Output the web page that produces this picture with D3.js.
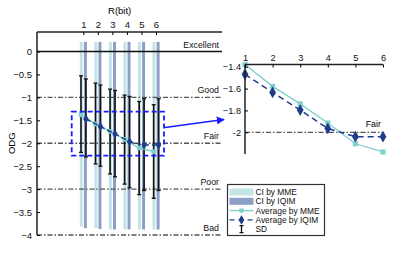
<!DOCTYPE html>
<html>
<head>
<meta charset="utf-8">
<script src="https://cdn.jsdelivr.net/npm/d3@7"></script>
<style>
  body { margin: 0; background: #fff; }
  svg { display: block; }
</style>
</head>
<body>
<div id="chart"></div>
<script>
// ODG vs bit rate, with zoomed inset of the averages
const rates = [1, 2, 3, 4, 5, 6];
const meanMME = [-1.38, -1.58, -1.74, -1.915, -2.105, -2.18];
const meanIQIM = [-1.47, -1.635, -1.797, -1.965, -2.04, -2.04];
const sdTopMME = [-0.53, -0.69, -0.82, -0.95, -1.09, -1.16];
const sdBotMME = [-2.2, -2.45, -2.67, -2.89, -3.12, -3.2];
const sdTopIQIM = [-0.6, -0.73, -0.85, -0.98, -1.03, -1.03];
const sdBotIQIM = [-2.3, -2.5, -2.73, -2.97, -3.03, -3.03];
const ciTopMME = [0.21, 0.21, 0.21, 0.21, 0.21, 0.21];
const ciBotMME = [-3.82, -3.85, -3.88, -3.88, -3.88, -3.88];
const ciTopIQIM = [0.21, 0.21, 0.21, 0.21, 0.21, 0.21];
const ciBotIQIM = [-3.85, -3.87, -3.88, -3.88, -3.88, -3.88];
const grades = [
  { v: 0, label: 'Excellent' },
  { v: -1, label: 'Good' },
  { v: -2, label: 'Fair' },
  { v: -3, label: 'Poor' },
  { v: -4, label: 'Bad' }
];
const yTicks = [0, -0.5, -1, -1.5, -2, -2.5, -3, -3.5, -4];
const insetTicks = [-1.4, -1.6, -1.8, -2];

const C_MME_CI = '#c2e5e4';
const C_IQIM_CI = '#8d9ec7';
const C_MME = '#80cfcd';
const C_IQIM = '#1f3d8a';
const FONT = '"Liberation Sans", Arial, sans-serif';

const svg = d3.select('#chart').append('svg')
  .attr('width', 415).attr('height', 255)
  .style('font-family', FONT);

// main panel geometry
const L = 37, R = 222, T = 32;
const x = d3.scaleLinear().domain([1, 6]).range([83.3, 156]);
const y = d3.scaleLinear().domain([0, -4]).range([51.5, 235]);

// CI bars
rates.forEach((r, i) => {
  svg.append('rect')
    .attr('x', x(r) - 3.5).attr('width', 3)
    .attr('y', y(ciTopMME[i])).attr('height', y(ciBotMME[i]) - y(ciTopMME[i]))
    .attr('fill', C_MME_CI);
  svg.append('rect')
    .attr('x', x(r) + 0.6).attr('width', 3)
    .attr('y', y(ciTopIQIM[i])).attr('height', y(ciBotIQIM[i]) - y(ciTopIQIM[i]))
    .attr('fill', C_IQIM_CI);
});

// grade lines
grades.forEach(g => {
  svg.append('line')
    .attr('x1', L).attr('x2', R)
    .attr('y1', y(g.v)).attr('y2', y(g.v))
    .attr('stroke', g.v === 0 ? '#111' : '#555')
    .attr('stroke-width', g.v === 0 ? 1.5 : 1.3)
    .attr('stroke-dasharray', g.v === 0 ? null : '5,2,1.5,2');
  svg.append('text')
    .attr('x', R - 3).attr('y', y(g.v) - 4)
    .attr('text-anchor', 'end')
    .style('font-size', '8.8px').style('fill', '#111')
    .text(g.label);
});

// SD error bars
function errBar(cx, top, bot) {
  svg.append('line').attr('x1', cx).attr('x2', cx)
    .attr('y1', y(top)).attr('y2', y(bot))
    .attr('stroke', '#111').attr('stroke-width', 1.6);
  [top, bot].forEach(v => {
    svg.append('line').attr('x1', cx - 2).attr('x2', cx + 2)
      .attr('y1', y(v)).attr('y2', y(v))
      .attr('stroke', '#111').attr('stroke-width', 1.3);
  });
}
rates.forEach((r, i) => {
  errBar(x(r) - 2.3, sdTopMME[i], sdBotMME[i]);
  errBar(x(r) + 2.6, sdTopIQIM[i], sdBotIQIM[i]);
});

// average lines
function series(xs, ys, vals, xo, color, dash, marker, ms, lw) {
  const line = d3.line().x((d, i) => xs(rates[i]) + xo).y(d => ys(d));
  svg.append('path').datum(vals).attr('d', line)
    .attr('fill', 'none').attr('stroke', color).attr('stroke-width', lw)
    .attr('stroke-dasharray', dash);
  vals.forEach((v, i) => {
    svg.append('path')
      .attr('transform', `translate(${xs(rates[i]) + xo},${ys(v)})`)
      .attr('d', d3.symbol().type(marker).size(ms)())
      .attr('fill', color);
  });
}
series(x, y, meanMME, -2.3, C_MME, null, d3.symbolSquare, 22, 1.5);
series(x, y, meanIQIM, 2.6, C_IQIM, '5,3', d3.symbolDiamond, 26, 1.5);

// axes
const yAxis = svg.append('g').attr('transform', `translate(${L},0)`)
  .call(d3.axisLeft(y).tickValues(yTicks).tickSize(-3).tickPadding(5)
    .tickFormat(d => d === 0 ? '0' : d3.format('')(d)));
yAxis.select('.domain').attr('d', `M0,${T}V${y(-4)}`).attr('stroke', '#222').attr('stroke-width', 1.5);
yAxis.selectAll('text').style('font-size', '9.5px').style('font-family', FONT).attr('fill', '#111');

const xAxis = svg.append('g').attr('transform', `translate(0,${T})`)
  .call(d3.axisTop(x).tickValues(rates).tickSize(-3).tickPadding(4).tickFormat(d3.format('d')));
xAxis.select('.domain').attr('d', `M${L},0H${R}`).attr('stroke', '#222').attr('stroke-width', 1.5);
xAxis.selectAll('text').style('font-size', '9.5px').style('font-family', FONT).attr('fill', '#111');

svg.append('text').attr('x', x(3.5)).attr('y', 14)
  .attr('text-anchor', 'middle').style('font-size', '9.5px').text('R(bit)');
svg.append('text').attr('transform', `translate(15,${y(-2)}) rotate(-90)`)
  .attr('text-anchor', 'middle').style('font-size', '9.5px').text('ODG');

// zoom box and arrow
svg.append('rect')
  .attr('x', 71.7).attr('y', 111.7).attr('width', 92.3).attr('height', 44)
  .attr('fill', 'none').attr('stroke', '#1a1aff').attr('stroke-width', 1.8)
  .attr('stroke-dasharray', '5,3');
svg.append('defs').append('marker')
  .attr('id', 'ah').attr('viewBox', '0 0 10 10').attr('refX', 9).attr('refY', 5)
  .attr('markerWidth', 5).attr('markerHeight', 5).attr('orient', 'auto')
  .append('path').attr('d', 'M0,0L10,5L0,10Z').attr('fill', '#1a1aff');
svg.append('line')
  .attr('x1', 165).attr('y1', 127.5).attr('x2', 224).attr('y2', 119.5)
  .attr('stroke', '#1a1aff').attr('stroke-width', 1.6).attr('marker-end', 'url(#ah)');

// inset
const xi = d3.scaleLinear().domain([1, 6]).range([245, 383]);
const yi = d3.scaleLinear().domain([-1.4, -2]).range([66.7, 132.3]);
const iTop = 64.5, iBot = 154;

svg.append('line').attr('x1', 245).attr('x2', 383)
  .attr('y1', yi(-2)).attr('y2', yi(-2))
  .attr('stroke', '#555').attr('stroke-width', 1.3).attr('stroke-dasharray', '5,2,1.5,2');
svg.append('text').attr('x', xi(5.65)).attr('y', yi(-2) - 5)
  .attr('text-anchor', 'middle').style('font-size', '8.8px').text('Fair');

series(xi, yi, meanMME, 0, C_MME, null, d3.symbolSquare, 26, 1.3);
series(xi, yi, meanIQIM, 0, C_IQIM, '6,4', d3.symbolDiamond, 40, 1.5);

const yiAxis = svg.append('g').attr('transform', 'translate(245,0)')
  .call(d3.axisLeft(yi).tickValues(insetTicks).tickSize(-3).tickPadding(4)
    .tickFormat(d => d === -2 ? '-2' : d3.format('.1f')(d)));
yiAxis.select('.domain').attr('d', `M0,${iTop}V${iBot}`).attr('stroke', '#222').attr('stroke-width', 1.5);
yiAxis.selectAll('text').style('font-size', '9.2px').style('font-family', FONT).attr('fill', '#111');

const xiAxis = svg.append('g').attr('transform', `translate(0,${iTop})`)
  .call(d3.axisTop(xi).tickValues(rates).tickSize(-3).tickPadding(4).tickFormat(d3.format('d')));
xiAxis.select('.domain').attr('d', `M245,0H383`).attr('stroke', '#222').attr('stroke-width', 1.5);
xiAxis.selectAll('text').style('font-size', '9.2px').style('font-family', FONT).attr('fill', '#111');

// legend
const lg = svg.append('g').attr('transform', 'translate(227.5,184.5)');
lg.append('rect').attr('width', 97).attr('height', 51)
  .attr('fill', '#fff').attr('stroke', '#333').attr('stroke-width', 1.2);
const items = ['CI by MME', 'CI by IQIM', 'Average by MME', 'Average by IQIM', 'SD'];
items.forEach((t, i) => {
  const cy = 7.5 + i * 9.3;
  const s = lg.append('g').attr('transform', `translate(0,${cy})`);
  if (i === 0 || i === 1) {
    s.append('rect').attr('x', 2).attr('y', -3.5).attr('width', 24).attr('height', 7)
      .attr('fill', i === 0 ? C_MME_CI : C_IQIM_CI);
  } else if (i === 2) {
    s.append('line').attr('x1', 2).attr('x2', 26).attr('stroke', C_MME).attr('stroke-width', 1.4);
    s.append('path').attr('transform', 'translate(14,0)')
      .attr('d', d3.symbol().type(d3.symbolSquare).size(18)()).attr('fill', C_MME);
  } else if (i === 3) {
    s.append('line').attr('x1', 2).attr('x2', 26).attr('stroke', C_IQIM).attr('stroke-width', 1.4)
      .attr('stroke-dasharray', '5,4');
    s.append('path').attr('transform', 'translate(14,0)')
      .attr('d', d3.symbol().type(d3.symbolDiamond).size(28)()).attr('fill', C_IQIM);
  } else {
    s.append('path').attr('d', 'M12,-3.5H16M14,-3.5V3.5M12,3.5H16')
      .attr('stroke', '#111').attr('stroke-width', 1.3).attr('fill', 'none');
  }
  s.append('text').attr('x', 28).attr('y', 3)
    .style('font-size', '8.4px').style('fill', '#111').text(t);
});
</script>
</body>
</html>
